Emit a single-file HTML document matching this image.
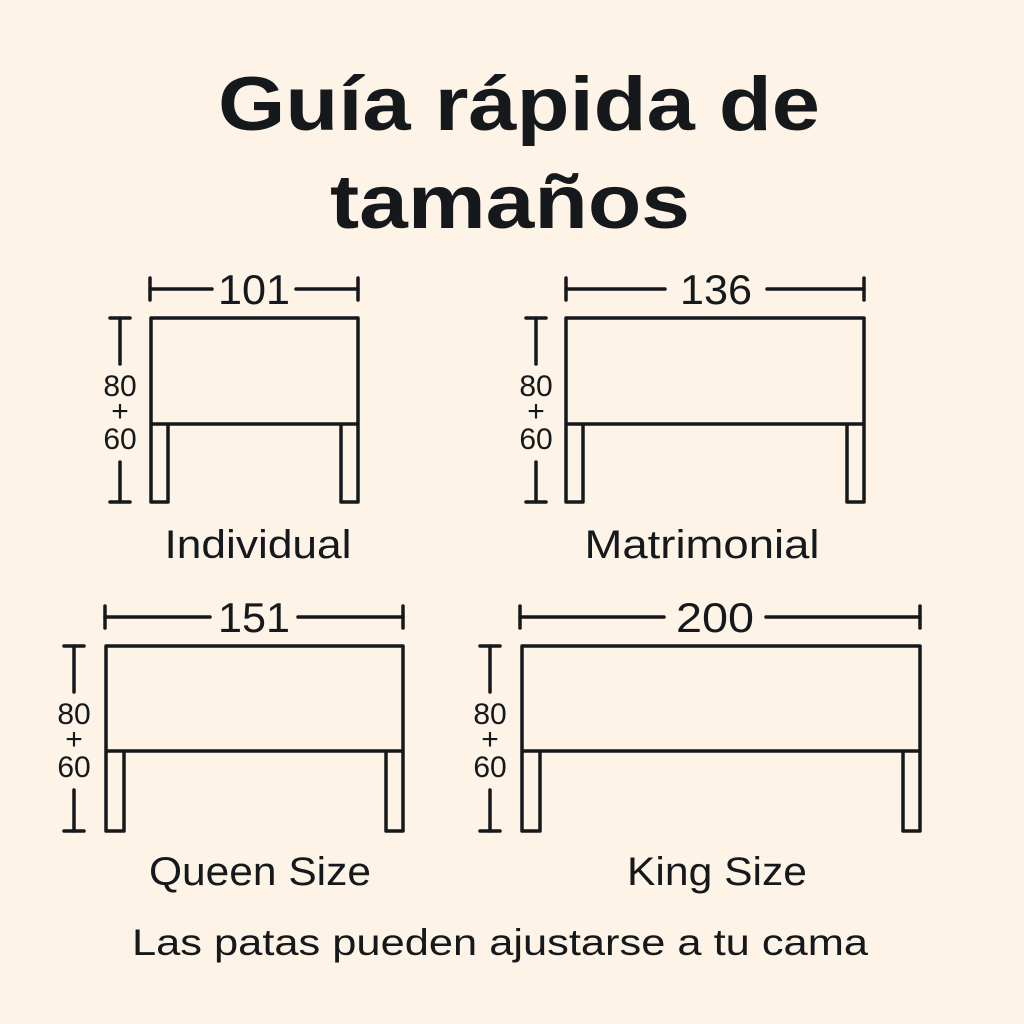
<!DOCTYPE html>
<html><head><meta charset="utf-8"><style>
html,body{margin:0;padding:0;background:#fdf3e7;}
svg{display:block}
text{font-family:"Liberation Sans",sans-serif;fill:#15191c}
</style></head><body>
<svg width="1024" height="1024" viewBox="0 0 1024 1024" xmlns="http://www.w3.org/2000/svg">
<rect width="1024" height="1024" fill="#fdf3e7"/>
<text x="519" y="130" font-size="76" font-weight="bold" text-anchor="middle" textLength="602" lengthAdjust="spacingAndGlyphs">Guía rápida de</text>
<text x="510" y="228" font-size="76" font-weight="bold" text-anchor="middle" textLength="360" lengthAdjust="spacingAndGlyphs">tamaños</text>
<g fill="none" stroke="#15191c" stroke-width="3.5" stroke-linecap="round" stroke-linejoin="round">
<!-- Individual -->
<path d="M151 502 V318 H358 V502 H341 V424 M151 424 H358 M151 502 H168 V424"/>
<line x1="150" y1="278" x2="150" y2="300"/><line x1="358" y1="278" x2="358" y2="300"/>
<line x1="150" y1="289" x2="212" y2="289"/><line x1="296" y1="289" x2="358" y2="289"/>
<line x1="120" y1="318" x2="120" y2="364"/><line x1="120" y1="462" x2="120" y2="502"/>
<line x1="110" y1="318" x2="130" y2="318"/><line x1="110" y1="502" x2="130" y2="502"/>
<!-- Matrimonial -->
<path d="M566 502 V318 H864 V502 H847 V424 M566 424 H864 M566 502 H583 V424"/>
<line x1="566" y1="278" x2="566" y2="300"/><line x1="864" y1="278" x2="864" y2="300"/>
<line x1="566" y1="289" x2="665" y2="289"/><line x1="767" y1="289" x2="864" y2="289"/>
<line x1="536" y1="318" x2="536" y2="364"/><line x1="536" y1="462" x2="536" y2="502"/>
<line x1="526" y1="318" x2="546" y2="318"/><line x1="526" y1="502" x2="546" y2="502"/>
<!-- Queen -->
<path d="M106 831 V646 H403 V831 H386 V751 M106 751 H403 M106 831 H124 V751"/>
<line x1="105" y1="606" x2="105" y2="628"/><line x1="403" y1="606" x2="403" y2="628"/>
<line x1="105" y1="617" x2="210" y2="617"/><line x1="298" y1="617" x2="403" y2="617"/>
<line x1="74" y1="646" x2="74" y2="692"/><line x1="74" y1="790" x2="74" y2="831"/>
<line x1="64" y1="646" x2="84" y2="646"/><line x1="64" y1="831" x2="84" y2="831"/>
<!-- King -->
<path d="M522 831 V646 H920 V831 H903 V751 M522 751 H920 M522 831 H540 V751"/>
<line x1="520" y1="606" x2="520" y2="628"/><line x1="920" y1="606" x2="920" y2="628"/>
<line x1="520" y1="617" x2="664" y2="617"/><line x1="766" y1="617" x2="920" y2="617"/>
<line x1="490" y1="646" x2="490" y2="692"/><line x1="490" y1="790" x2="490" y2="831"/>
<line x1="480" y1="646" x2="500" y2="646"/><line x1="480" y1="831" x2="500" y2="831"/>
</g>
<g font-size="42" text-anchor="middle">
<text x="254" y="304" textLength="72" lengthAdjust="spacingAndGlyphs">101</text>
<text x="716" y="304" textLength="72" lengthAdjust="spacingAndGlyphs">136</text>
<text x="254" y="632" textLength="72" lengthAdjust="spacingAndGlyphs">151</text>
<text x="715" y="632" textLength="78" lengthAdjust="spacingAndGlyphs">200</text>
</g>
<g font-size="30" text-anchor="middle">
<text x="120" y="396">80</text><text x="120" y="421">+</text><text x="120" y="449">60</text>
<text x="536" y="396">80</text><text x="536" y="421">+</text><text x="536" y="449">60</text>
<text x="74" y="724">80</text><text x="74" y="749">+</text><text x="74" y="777">60</text>
<text x="490" y="724">80</text><text x="490" y="749">+</text><text x="490" y="777">60</text>
</g>
<g font-size="40" text-anchor="middle">
<text x="258" y="558" textLength="187" lengthAdjust="spacingAndGlyphs">Individual</text>
<text x="702" y="558" textLength="235" lengthAdjust="spacingAndGlyphs">Matrimonial</text>
<text x="260" y="885" textLength="222" lengthAdjust="spacingAndGlyphs">Queen Size</text>
<text x="717" y="885" textLength="180" lengthAdjust="spacingAndGlyphs">King Size</text>
<text x="500" y="955" font-size="37" textLength="736" lengthAdjust="spacingAndGlyphs">Las patas pueden ajustarse a tu cama</text>
</g>
</svg>
</body></html>
